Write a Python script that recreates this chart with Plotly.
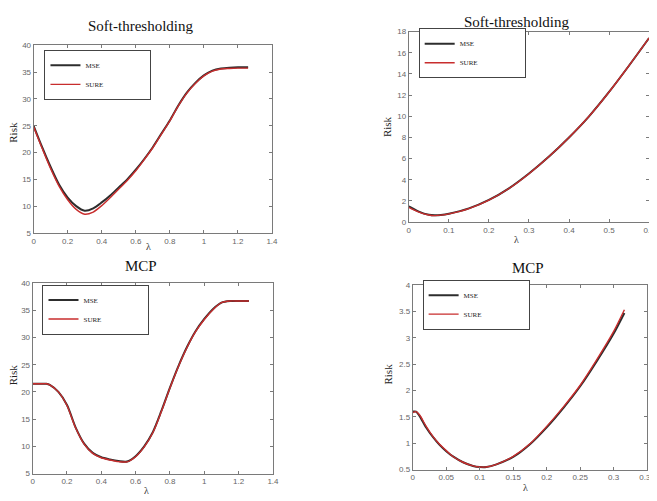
import plotly.graph_objects as go

# ---------------- data ----------------
# Top-left: Soft-thresholding (wide lambda range)
st1_lambda = [0, 0.05, 0.1, 0.15, 0.2, 0.25, 0.3, 0.35, 0.4, 0.45, 0.5, 0.55, 0.6, 0.65,
              0.7, 0.75, 0.8, 0.85, 0.9, 0.95, 1.0, 1.05, 1.1, 1.15, 1.2, 1.26]
st1_mse = [25.0, 21.0, 17.3, 14.0, 11.6, 10.0, 9.15, 9.6, 10.7, 12.0, 13.5, 15.0, 16.8, 18.8,
           21.0, 23.5, 26.0, 28.8, 31.2, 33.0, 34.4, 35.3, 35.7, 35.85, 35.9, 35.9]
st1_sure = [24.8, 20.8, 17.0, 13.7, 11.2, 9.4, 8.5, 8.9, 10.1, 11.6, 13.2, 14.8, 16.6, 18.7,
            20.9, 23.4, 25.9, 28.7, 31.1, 32.9, 34.3, 35.2, 35.6, 35.7, 35.75, 35.75]

# Top-right: Soft-thresholding (narrow lambda range)
st2_lambda = [0, 0.025, 0.05, 0.065, 0.08, 0.1, 0.15, 0.2, 0.25, 0.3, 0.35, 0.4, 0.45, 0.5, 0.55, 0.6]
st2_mse = [1.5, 1.0, 0.7, 0.65, 0.68, 0.8, 1.3, 2.1, 3.2, 4.6, 6.2, 8.0, 10.0, 12.3, 14.8, 17.4]
st2_sure = [1.4, 0.95, 0.68, 0.62, 0.66, 0.78, 1.28, 2.08, 3.18, 4.58, 6.2, 8.0, 10.0, 12.3, 14.8, 17.4]

# Bottom-left: MCP (wide lambda range)
mcp1_lambda = [0, 0.05, 0.08, 0.1, 0.15, 0.2, 0.25, 0.3, 0.35, 0.4, 0.45, 0.5, 0.55, 0.6, 0.65,
               0.7, 0.75, 0.8, 0.85, 0.9, 0.95, 1.0, 1.05, 1.1, 1.15, 1.2, 1.26]
mcp1_mse = [21.5, 21.5, 21.5, 21.3, 20.0, 17.6, 13.5, 10.5, 8.8, 8.0, 7.6, 7.3, 7.2, 8.2, 10.0,
            12.6, 16.5, 20.8, 24.8, 28.3, 31.2, 33.4, 35.2, 36.4, 36.7, 36.7, 36.7]
mcp1_sure = [21.5, 21.5, 21.5, 21.3, 20.0, 17.5, 13.4, 10.4, 8.7, 7.9, 7.5, 7.2, 7.15, 8.1, 9.9,
             12.5, 16.4, 20.7, 24.7, 28.2, 31.1, 33.3, 35.1, 36.4, 36.7, 36.7, 36.7]

# Bottom-right: MCP (narrow lambda range)
mcp2_lambda = [0, 0.005, 0.01, 0.02, 0.03, 0.04, 0.05, 0.06, 0.075, 0.09, 0.1, 0.11, 0.125,
               0.15, 0.175, 0.2, 0.225, 0.25, 0.275, 0.3, 0.316]
mcp2_mse = [1.6, 1.6, 1.52, 1.3, 1.12, 0.97, 0.85, 0.75, 0.64, 0.57, 0.55, 0.55, 0.6,
            0.74, 0.98, 1.3, 1.67, 2.08, 2.56, 3.08, 3.47]
mcp2_sure = [1.58, 1.6, 1.54, 1.32, 1.13, 0.98, 0.86, 0.75, 0.64, 0.57, 0.55, 0.55, 0.6,
             0.75, 0.99, 1.32, 1.69, 2.1, 2.59, 3.12, 3.53]

titles = ["Soft-thresholding", "Soft-thresholding", "MCP", "MCP"]
series_names = ["MSE", "SURE"]

# ---------------- figure ----------------
W, H = 657, 501
OFF = 8  # default page body margin
MSE_COLOR = "rgb(45,45,45)"
SURE_COLOR = "rgb(200,45,45)"
SERIF = "Liberation Serif"
SANS = "Liberation Sans"
LEGEND_PAD = "\u00a0" * 24  # widens the legend box like the reference


def px(xp):
    return (xp - OFF) / W


def py(yp):
    return 1 - (yp - OFF) / H


panels = [
    (st1_lambda, st1_mse, st1_sure, "x", "y", "legend", (32, 274, 42, 233), [0, 1.4], [5, 40], 0.2, 5),
    (st2_lambda, st2_mse, st2_sure, "x2", "y2", "legend2", (413, 657, 28, 222), [0, 0.6], [0, 18], 0.1, 2),
    (mcp1_lambda, mcp1_mse, mcp1_sure, "x3", "y3", "legend3", (31, 275, 284, 478), [0, 1.4], [5, 40], 0.2, 5),
    (mcp2_lambda, mcp2_mse, mcp2_sure, "x4", "y4", "legend4", (417, 655, 286, 474), [0, 0.35], [0.5, 4], 0.05, 0.5),
]

legend_pos = [(43, 72), (423, 50), (41, 311), (427, 306)]
# (x center, y, yanchor)
title_pos = [(141, 22, "middle"), (522, 8, "top"), (141, 267, "middle"), (534, 269, "middle")]
risk_pos = [(11, 130), (391, 125), (11, 377), (392, 377)]
lam_pos = [(149, 247), (522, 240), (147, 495), (531, 492)]

fig = go.Figure()
layout = dict(
    width=W, height=H,
    margin=dict(l=0, r=0, t=0, b=0),
    paper_bgcolor="white", plot_bgcolor="white",
    showlegend=True,
    annotations=[],
)

for i, (lam, mse, sure, xa, ya, lg, box, xr, yr, dx, dy) in enumerate(panels):
    fig.add_trace(go.Scatter(x=lam, y=mse, mode="lines", name=series_names[0] + LEGEND_PAD,
                             line=dict(color=MSE_COLOR, width=2, shape="spline", smoothing=0.8),
                             xaxis=xa, yaxis=ya, legend=lg))
    fig.add_trace(go.Scatter(x=lam, y=sure, mode="lines", name=series_names[1] + LEGEND_PAD,
                             line=dict(color=SURE_COLOR, width=1.4, shape="spline", smoothing=0.8),
                             xaxis=xa, yaxis=ya, legend=lg))
    l, r, t, b = box
    axis_common = dict(showline=True, linecolor="#7a7a7a", linewidth=1, mirror="ticks",
                       ticks="inside", ticklen=3, tickcolor="#7a7a7a", showgrid=False,
                       zeroline=False, tickfont=dict(family=SANS, size=8, color="#666"))
    xkey = "xaxis" if xa == "x" else "xaxis" + xa[1:]
    ykey = "yaxis" if ya == "y" else "yaxis" + ya[1:]
    layout[xkey] = dict(axis_common, domain=[px(l), min(px(r), 1)], range=xr, dtick=dx, tick0=0,
                        anchor=ya)
    layout[ykey] = dict(axis_common, domain=[py(b), py(t)], range=yr, dtick=dy,
                        tick0=0, anchor=xa)
    lx, ly = legend_pos[i]
    layout[lg] = dict(x=px(lx), y=py(ly), xanchor="left", yanchor="middle",
                      bordercolor="#444", borderwidth=1, bgcolor="white",
                      font=dict(family=SERIF, size=7, color="#222"),
                      tracegroupgap=0, itemwidth=30)
    tx, ty, tya = title_pos[i]
    layout["annotations"].append(dict(text=titles[i], x=px(tx), y=min(py(ty), 1), xref="paper",
                                      yref="paper", showarrow=False, xanchor="center",
                                      yanchor=tya, font=dict(family=SERIF, size=15, color="#111")))
    rx, ry = risk_pos[i]
    layout["annotations"].append(dict(text="Risk", x=px(rx), y=py(ry), xref="paper",
                                      yref="paper", showarrow=False, textangle=-90,
                                      xanchor="center", yanchor="middle",
                                      font=dict(family=SERIF, size=11, color="#222")))
    ax_, ay_ = lam_pos[i]
    layout["annotations"].append(dict(text="λ", x=px(ax_), y=py(ay_), xref="paper",
                                      yref="paper", showarrow=False, xanchor="center",
                                      yanchor="middle", font=dict(family=SERIF, size=10, color="#333")))

fig.update_layout(**layout)
fig.write_html("out.html")
